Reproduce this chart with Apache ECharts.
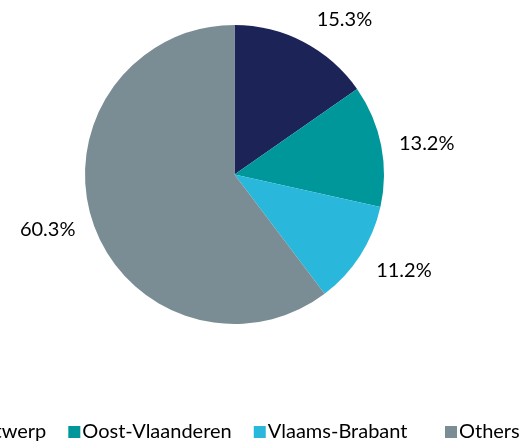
<!DOCTYPE html>
<html>
<head>
<meta charset="utf-8">
<script src="https://cdn.jsdelivr.net/npm/echarts@6/dist/echarts.min.js"></script>
<style>
  html, body { margin: 0; padding: 0; background: #fff; }
  #chart { width: 528px; height: 443px; }
</style>
</head>
<body>
<div id="chart"></div>
<script>
// Share by province
const provinces = ['Antwerp', 'Oost-Vlaanderen', 'Vlaams-Brabant', 'Others'];
const shares = [15.3, 13.2, 11.2, 60.3];
const sliceColors = ['#1B2357', '#00979B', '#29B8DC', '#7A8D94'];

const FONT = 'Lato, "Open Sans", sans-serif';

// small nudges for the outside labels
const labelNudges = [[2, -11], [0, 0], [0, 8], [0, 3]];

const pieData = provinces.map((name, i) => ({
  name: name,
  value: shares[i],
  itemStyle: { color: sliceColors[i] },
  label: { offset: labelNudges[i] }
}));

// the legend row is split in two blocks so the last entry keeps its own spot
function legendBlock(names, left) {
  return {
    data: names,
    orient: 'horizontal',
    left: left,
    top: 422,
    padding: 0,
    icon: 'rect',
    itemWidth: 12,
    itemHeight: 12,
    itemGap: 22,
    selectedMode: false,
    textStyle: { fontFamily: FONT, fontSize: 20, color: '#000000', padding: [0, 0, 0, -3] }
  };
}

const chart = echarts.init(document.getElementById('chart'), null, { renderer: 'canvas' });
chart.setOption({
  animation: false,
  backgroundColor: '#ffffff',
  legend: [
    legendBlock(provinces.slice(0, 3), -44),
    legendBlock(provinces.slice(3), 445)
  ],
  series: [{
    type: 'pie',
    center: [234.5, 174.5],
    radius: 149.5,
    startAngle: 90,
    clockwise: true,
    avoidLabelOverlap: false,
    data: pieData,
    label: {
      show: true,
      position: 'outside',
      formatter: p => p.value.toFixed(1) + '%',
      fontFamily: FONT,
      fontSize: 20,
      color: '#000000'
    },
    labelLine: { show: false, length: 13, length2: 0 },
    emphasis: { disabled: true }
  }]
});
</script>
</body>
</html>
